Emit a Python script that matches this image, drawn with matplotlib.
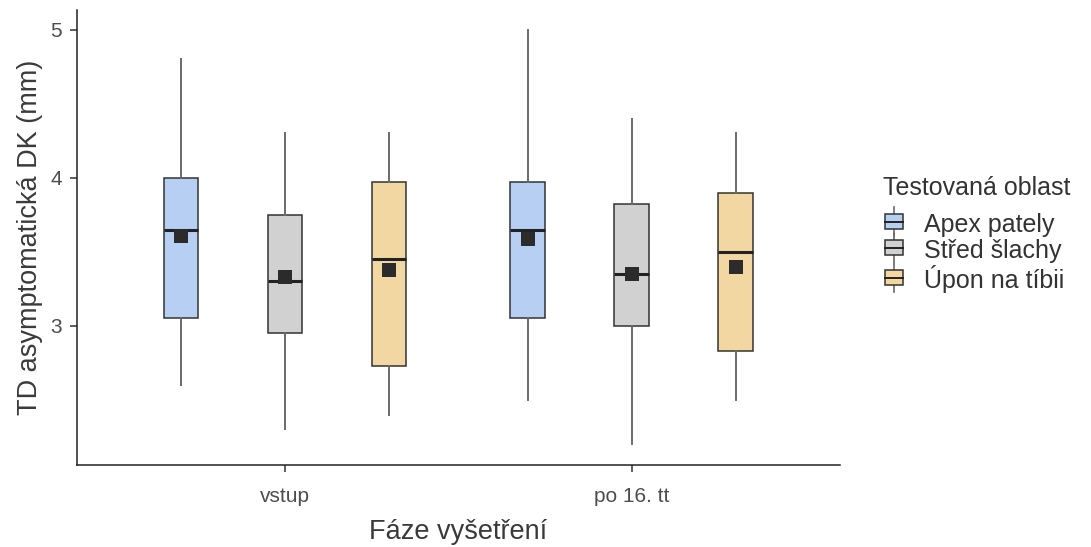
import matplotlib
matplotlib.use("Agg")
import matplotlib.pyplot as plt
from matplotlib.legend_handler import HandlerBase
from matplotlib.patches import Rectangle
from matplotlib.lines import Line2D

plt.rcParams['font.family'] = ['Liberation Sans', 'DejaVu Sans']

# data
phases = ["vstup", "po 16. tt"]
regions = ["Apex pately", "Střed šlachy", "Úpon na tíbii"]
colors = ["#b7cff2", "#d1d1d1", "#f2d7a2"]

# per region: values for [vstup, po 16. tt]
whislo = [[2.60, 2.50], [2.30, 2.20], [2.40, 2.50]]
q1 = [[3.05, 3.05], [2.95, 3.00], [2.73, 2.83]]
med = [[3.65, 3.65], [3.30, 3.35], [3.45, 3.50]]
q3 = [[4.00, 3.975], [3.75, 3.82], [3.975, 3.90]]
whishi = [[4.80, 5.00], [4.30, 4.40], [4.30, 4.30]]
means = [[3.61, 3.59], [3.33, 3.35], [3.38, 3.40]]

fig = plt.figure(figsize=(10.91, 5.47), dpi=100)
ax = fig.add_axes([0.0706, 0.150, 0.699, 0.832])

offsets = [-0.3, 0.0, 0.3]
for r in range(len(regions)):
    stats = []
    pos = []
    for p in range(len(phases)):
        stats.append(dict(whislo=whislo[r][p], q1=q1[r][p], med=med[r][p],
                          q3=q3[r][p], whishi=whishi[r][p], fliers=[]))
        pos.append(p + 1 + offsets[r])
    ax.bxp(stats, positions=pos, widths=0.1, patch_artist=True,
           showcaps=False, showfliers=False,
           boxprops=dict(facecolor=colors[r], edgecolor="#333333", linewidth=1.1),
           whiskerprops=dict(color="#6a6a6a", linewidth=1.4),
           medianprops=dict(color="#222222", linewidth=2.2, solid_capstyle="butt"),
           zorder=2)
    ax.scatter(pos, means[r], marker="s", s=110, color="#2b2b2b", zorder=4,
               linewidths=0)

ax.set_xlim(0.4, 2.6)
ax.set_ylim(2.06, 5.135)
ax.set_xticks([1, 2])
ax.set_xticklabels(phases)
ax.set_yticks([3, 4, 5])
ax.tick_params(axis="both", colors="#333333", labelcolor="#4d4d4d",
               labelsize=15, length=5, width=1.1)
ax.tick_params(axis="x", pad=11)
ax.tick_params(axis="y", pad=6)
for s in ["top", "right"]:
    ax.spines[s].set_visible(False)
for s in ["left", "bottom"]:
    ax.spines[s].set_color("#222222")
    ax.spines[s].set_linewidth(1.1)

ax.set_xlabel("Fáze vyšetření", fontsize=19.5, color="#3a3a3a", labelpad=9)
ax.set_ylabel("TD asymptomatická DK (mm)", fontsize=19.5, color="#3a3a3a", labelpad=5)


class BoxKey(HandlerBase):
    def create_artists(self, legend, orig, xd, yd, w, h, fontsize, trans):
        cx = xd + w / 2
        bw = 13
        bh = 11
        y0 = yd + (h - bh) / 2
        wl = Line2D([cx, cx], [y0 - 5, y0 + bh + 5], color="#6a6a6a", lw=1.2,
                    transform=trans)
        box = Rectangle((cx - bw / 2, y0), bw, bh, facecolor=orig.get_facecolor(),
                        edgecolor="#333333", lw=1.1, transform=trans)
        ml = Line2D([cx - bw / 2, cx + bw / 2], [yd + h / 2, yd + h / 2],
                    color="#222222", lw=1.4, transform=trans)
        return [wl, box, ml]


fig.text(883 / 1091, 1 - 188 / 547, "Testovaná oblast", fontsize=18,
         color="#333333", ha="left", va="center")

handles = [Rectangle((0, 0), 1, 1, facecolor=c) for c in colors]
leg = fig.legend(handles, regions,
                 handler_map={Rectangle: BoxKey()},
                 loc="upper left", bbox_to_anchor=(884 / 1091, 1 - 213 / 547),
                 frameon=False, fontsize=18,
                 handlelength=0.8, handleheight=0.8, handletextpad=0.8,
                 labelspacing=0.08, borderpad=0, borderaxespad=0)
for t in leg.get_texts():
    t.set_color("#333333")

fig.savefig("out.png", dpi=100)
